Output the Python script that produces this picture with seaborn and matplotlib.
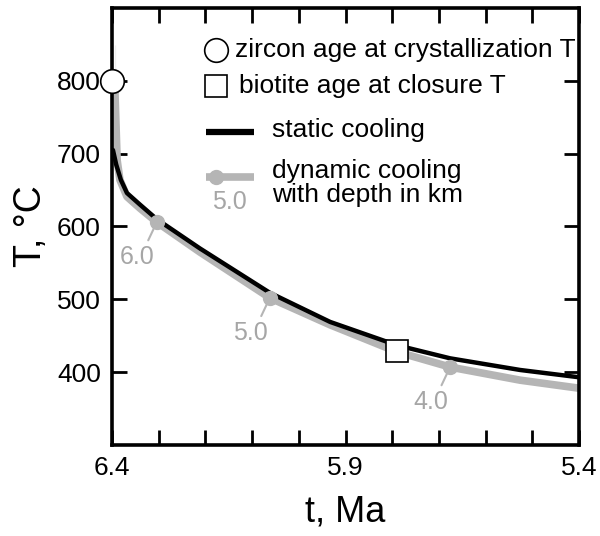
import matplotlib
matplotlib.use("Agg")
import matplotlib.pyplot as plt
import seaborn as sns
import pandas as pd

# ---- data ----
t_dynamic = [6.394, 6.394, 6.389, 6.383, 6.368, 6.340, 6.304, 6.212, 6.062, 5.933, 5.790, 5.676, 5.526, 5.400]
T_dynamic = [849, 733, 691, 664, 641, 625, 606, 565, 502, 465, 428, 407, 389, 378]

t_static = [6.398, 6.391, 6.381, 6.368, 6.340, 6.304, 6.212, 6.062, 5.933, 5.790, 5.676, 5.526, 5.400]
T_static = [705, 685, 664, 646, 630, 610, 570, 509, 469, 437, 419, 403, 393]

t_depth = [6.304, 6.062, 5.676]
T_depth = [606, 502, 407]
depth_labels = ["6.0", "5.0", "4.0"]

t_zircon, T_zircon = [6.4], [800]
t_biotite, T_biotite = [5.789], [429]

x_ticks = [6.4, 6.3, 6.2, 6.1, 6.0, 5.9, 5.8, 5.7, 5.6, 5.5, 5.4]
x_ticklabels = ["6.4", "", "", "", "", "5.9", "", "", "", "", "5.4"]
y_ticks = [400, 500, 600, 700, 800]

GRAY = "#b5b5b5"
GRAY_TXT = "#a6a6a6"

sns.set_theme(style="ticks")
plt.rcParams["font.family"] = ["Liberation Sans", "DejaVu Sans"]
plt.rcParams["text.color"] = "black"
plt.rcParams["axes.labelcolor"] = "black"

fig = plt.figure(figsize=(6.0, 5.36), dpi=100)
ax = fig.add_axes([112/600, 1-445/536, (579-112)/600, (445-8)/536])

dyn = pd.DataFrame({"t": t_dynamic, "T": T_dynamic})
sta = pd.DataFrame({"t": t_static, "T": T_static})
sns.lineplot(data=dyn, x="t", y="T", sort=False, color=GRAY, lw=5.5, ax=ax, zorder=2)
sns.lineplot(data=sta, x="t", y="T", sort=False, color="black", lw=3.2, ax=ax, zorder=3)

ax.plot(t_depth, T_depth, "o", ms=10, color=GRAY, mec=GRAY, zorder=4)
for t, T, lab in zip(t_depth, T_depth, depth_labels):
    ax.annotate(lab, xy=(t, T), xytext=(-14, -25), textcoords="offset points",
                ha="center", va="center", fontsize=18, color=GRAY_TXT, zorder=3,
                arrowprops=dict(arrowstyle="-", color=GRAY, lw=1.5, relpos=(0.75, 1.0),
                                shrinkA=1, shrinkB=0))

ax.plot(t_zircon, T_zircon, "o", ms=17, mfc="white", mec="black", mew=1.2, zorder=6, clip_on=False)
ax.plot(t_biotite, T_biotite, "s", ms=16, mfc="white", mec="black", mew=1.2, zorder=6)

ax.set_xlim(6.4, 5.4)
ax.set_ylim(300, 900)
ax.set_xticks(x_ticks)
ax.set_xticklabels(x_ticklabels)
ax.set_yticks(y_ticks)
ax.tick_params(direction="in", length=11, width=2, labelsize=19, pad=8,
               top=True, right=True, colors="black")
for s in ax.spines.values():
    s.set_linewidth(2.6)
    s.set_color("black")
    s.set_visible(True)

ax.set_xlabel("t, Ma", fontsize=26, labelpad=10, color="black")
ax.set_ylabel("T, °C", fontsize=27, labelpad=6, color="black")

# ---- legend (manual) ----
tr = ax.transAxes
FS = 19
ax.plot([0.2227], [0.904], "o", ms=17, mfc="white", mec="black", mew=1.2, transform=tr, clip_on=False)
ax.text(0.2634, 0.904, "zircon age at crystallization T", transform=tr, fontsize=FS, va="center", ha="left")
ax.plot([0.2227], [0.8215], "s", ms=16, mfc="white", mec="black", mew=1.2, transform=tr)
ax.text(0.272, 0.8215, "biotite age at closure T", transform=tr, fontsize=FS, va="center", ha="left")
ax.plot([0.2013, 0.3041], [0.7162, 0.7162], color="black", lw=4.5, transform=tr, solid_capstyle="butt")
ax.text(0.3426, 0.7208, "static cooling", transform=tr, fontsize=FS, va="center", ha="left")
ax.plot([0.2013, 0.3041], [0.6133, 0.6133], color=GRAY, lw=5.5, transform=tr, solid_capstyle="butt")
ax.plot([0.2227], [0.6133], "o", ms=10, color=GRAY, transform=tr)
ax.text(0.2505, 0.556, "5.0", transform=tr, fontsize=18, color=GRAY_TXT, va="center", ha="center")
ax.text(0.3426, 0.6005, "dynamic cooling\nwith depth in km", transform=tr, fontsize=FS,
        va="center", ha="left", linespacing=1.0)

fig.savefig("out.png", dpi=100)
